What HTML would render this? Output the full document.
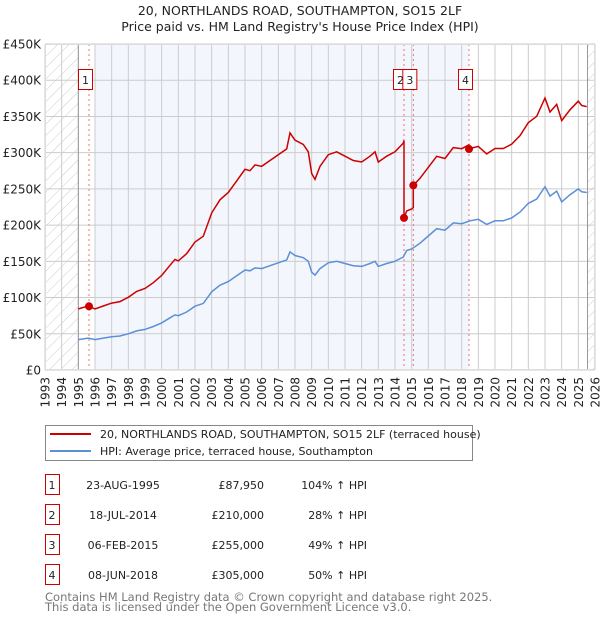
<!DOCTYPE html>
<html><head><meta charset="utf-8"><style>
body{margin:0;background:#fff;font-family:"DejaVu Sans","Liberation Sans",sans-serif;}
svg text{font-family:"DejaVu Sans","Liberation Sans",sans-serif;}
</style></head><body>
<svg id="chart" width="600" height="620" xmlns="http://www.w3.org/2000/svg">
<defs><pattern id="hatch" patternUnits="userSpaceOnUse" width="8" height="8" patternTransform="rotate(45)"><line x1="0" y1="0" x2="0" y2="8" stroke="#ccc" stroke-width="1"/></pattern></defs>
<text x="300" y="15" text-anchor="middle" font-size="12.5" fill="#222">20, NORTHLANDS ROAD, SOUTHAMPTON, SO15 2LF</text>
<text x="300" y="31" text-anchor="middle" font-size="12.5" fill="#222">Price paid vs. HM Land Registry's House Price Index (HPI)</text>
<g id="plot"></g>
<g>
<rect x="45.5" y="425.5" width="427" height="35" fill="#fff" stroke="#888"/>
<line x1="50" y1="434" x2="91" y2="434" stroke="#cc0000" stroke-width="2"/>
<text x="100" y="438" font-size="11" fill="#222">20, NORTHLANDS ROAD, SOUTHAMPTON, SO15 2LF (terraced house)</text>
<line x1="50" y1="451" x2="91" y2="451" stroke="#5b8fd6" stroke-width="2"/>
<text x="100" y="455" font-size="11" fill="#222">HPI: Average price, terraced house, Southampton</text>
</g>
<g id="table"></g>
<text x="45" y="601" font-size="11.5" fill="#777">Contains HM Land Registry data © Crown copyright and database right 2025.</text>
<text x="45" y="611" font-size="11.5" fill="#777">This data is licensed under the Open Government Licence v3.0.</text>
</svg>
<script>
const hpiYears=[1995.0,1995.6,1996.0,1996.5,1997.0,1997.5,1998.0,1998.5,1999.0,1999.5,2000.0,2000.5,2000.8,2001.0,2001.5,2002.0,2002.5,2003.0,2003.5,2004.0,2004.5,2005.0,2005.3,2005.6,2006.0,2006.5,2007.0,2007.5,2007.7,2008.0,2008.5,2008.8,2009.0,2009.2,2009.5,2010.0,2010.5,2011.0,2011.5,2012.0,2012.5,2012.8,2013.0,2013.5,2014.0,2014.5,2014.7,2015.0,2015.5,2016.0,2016.5,2017.0,2017.5,2018.0,2018.5,2019.0,2019.5,2020.0,2020.5,2021.0,2021.5,2022.0,2022.5,2023.0,2023.3,2023.7,2024.0,2024.5,2025.0,2025.2,2025.5];
const hpiValues=[42,44,42,44,46,47,50,54,56,60,65,72,76,75,80,88,92,108,117,122,130,138,137,141,140,144,148,152,163,158,155,150,135,131,140,148,150,147,144,143,147,150,143,147,150,156,165,167,175,185,195,193,203,202,206,208,201,206,206,210,218,230,236,253,240,247,232,242,250,246,245];
const saleLabels=["1","2","3","4"];
const saleYears=[1995.64,2014.54,2015.10,2018.44];
const salePrices=[87950,210000,255000,305000];
const saleDates=["23-AUG-1995","18-JUL-2014","06-FEB-2015","08-JUN-2018"];
const salePriceText=["£87,950","£210,000","£255,000","£305,000"];
const saleHpiText=["104% ↑ HPI","28% ↑ HPI","49% ↑ HPI","50% ↑ HPI"];
const yTicks=[0,50,100,150,200,250,300,350,400,450];
const yTickLabels=["£0","£50K","£100K","£150K","£200K","£250K","£300K","£350K","£400K","£450K"];
const xTicks=[1993,1994,1995,1996,1997,1998,1999,2000,2001,2002,2003,2004,2005,2006,2007,2008,2009,2010,2011,2012,2013,2014,2015,2016,2017,2018,2019,2020,2021,2022,2023,2024,2025,2026];

const L=45,R=595,T=44,B=370;
const X=y=>L+(y-1993)*(R-L)/33;
const Y=v=>B-v*(B-T)/450;
const NS="http://www.w3.org/2000/svg";
const plot=document.getElementById('plot');
function mk(tag,attrs,parent){const e=document.createElementNS(NS,tag);for(const k in attrs)e.setAttribute(k,attrs[k]);(parent||plot).appendChild(e);return e;}
function hpiAt(t){for(let i=0;i<hpiYears.length-1;i++){if(t<=hpiYears[i+1]){const f=(t-hpiYears[i])/(hpiYears[i+1]-hpiYears[i]);return hpiValues[i]+f*(hpiValues[i+1]-hpiValues[i]);}}return hpiValues[hpiValues.length-1];}

let bg=mk('rect',{x:L,y:T,width:R-L,height:B-T,fill:'#fff'});


let sh=mk('rect',{x:X(1996),y:T,width:X(saleYears[3])-X(1996),height:B-T,fill:'#f3f6fd'});


let h1=mk('rect',{x:L,y:T,width:X(1995)-L,height:B-T,fill:'url(#hatch)'});


let h2=mk('rect',{x:X(2025.55),y:T,width:R-X(2025.55),height:B-T,fill:'url(#hatch)'});



xTicks.forEach(t=>{
 let g=mk('line',{x1:X(t),y1:T,x2:X(t),y2:B,stroke:'#ccc','stroke-width':1});
 
 
 let tx=mk('text',{x:0,y:0,'font-size':12,fill:'#222','text-anchor':'end',transform:`translate(${X(t)+4.5},${B+7}) rotate(-90)`});
 tx.textContent=t;
 
 
});
yTicks.forEach((v,i)=>{
 let g=mk('line',{x1:L,y1:Y(v),x2:R,y2:Y(v),stroke:'#ccc','stroke-width':1});
 
 
 let tx=mk('text',{x:L-4,y:Y(v)+4.5,'font-size':12,fill:'#222','text-anchor':'end'});
 tx.textContent=yTickLabels[i];
 
 
});
let bl1=mk('line',{x1:X(1995),y1:T,x2:X(1995),y2:B,stroke:'#999','stroke-width':1});


let bl2=mk('line',{x1:X(2025.55),y1:T,x2:X(2025.55),y2:B,stroke:'#999','stroke-width':1});



saleYears.forEach((s,i)=>{
 let d=mk('line',{x1:X(s),y1:T,x2:X(s),y2:B,stroke:'#f07070','stroke-width':1,'stroke-dasharray':'2,3'});
 
 
});

let hp=hpiYears.map((t,i)=>X(t).toFixed(1)+','+Y(hpiValues[i]).toFixed(1)).join(' ');
let hl=mk('polyline',{points:hp,fill:'none',stroke:'#5b8fd6','stroke-width':1.5});



let pts=[];
const times=hpiYears.concat(saleYears).sort((a,b)=>a-b);
function ratioFor(t){let r=salePrices[0]/1000/hpiAt(saleYears[0]);for(let i=0;i<saleYears.length;i++){if(t>=saleYears[i])r=salePrices[i]/1000/hpiAt(saleYears[i]);}return r;}
for(let i=0;i<times.length;i++){
 const t=times[i];
 const si=saleYears.indexOf(t);
 if(si>0){pts.push([t,hpiAt(t)*ratioFor(t-1e-6)]);}
 pts.push([t,hpiAt(t)*ratioFor(t)]);
}
let pl=mk('polyline',{points:pts.map(p=>X(p[0]).toFixed(1)+','+Y(p[1]).toFixed(1)).join(' '),fill:'none',stroke:'#cc0000','stroke-width':1.5});



saleYears.forEach((s,i)=>{
 let c=mk('circle',{cx:X(s),cy:Y(salePrices[i]/1000),r:4,fill:'#cc0000'});
 
 
 let bx=X(s)-10.5;
 let r=mk('rect',{x:bx,y:69.5,width:14,height:20,fill:'#fff',stroke:'#cc0000'});
 
 
 let tx=mk('text',{x:bx+7,y:84,'font-size':11,fill:'#222','text-anchor':'middle'});
 tx.textContent=saleLabels[i];
 
 
});
let border=mk('rect',{x:L+0.5,y:T+0.5,width:R-L-1,height:B-T-1,fill:'none',stroke:'#ddd'});



const tbl=document.getElementById('table');
saleLabels.forEach((lab,i)=>{
 const cy=485+i*30;
 let r=mk('rect',{x:45.5,y:cy-10.5,width:14,height:20,fill:'#fff',stroke:'#cc0000'},tbl);
 
 
 const cells=[[52,'middle',lab],[123,'middle',saleDates[i]],[264,'end',salePriceText[i]],[367,'end',saleHpiText[i]]];
 cells.forEach((c,j)=>{
  let t=mk('text',{x:c[0],y:cy+4,'font-size':11,fill:'#222','text-anchor':c[1]},tbl);
  t.textContent=c[2];
  
  
 });
});
</script>
</body></html>
